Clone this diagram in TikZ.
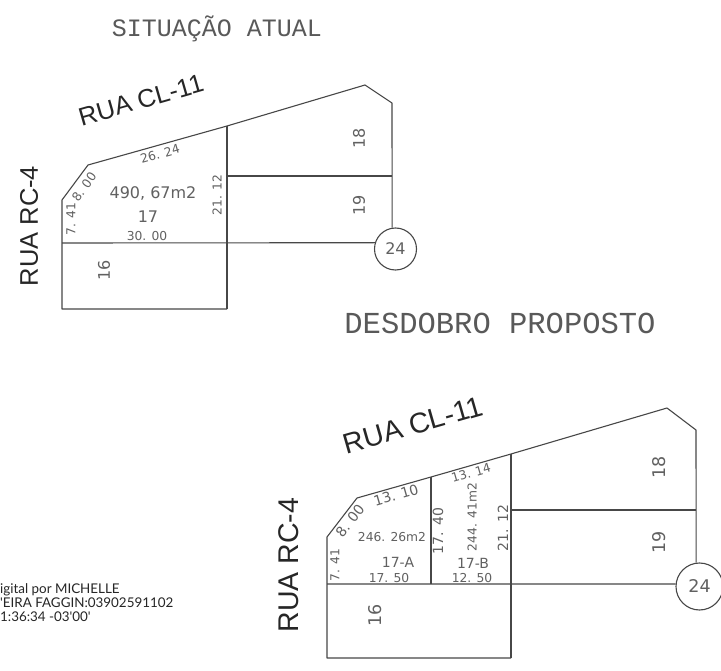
\documentclass[tikz,border=0pt]{standalone}
\usepackage{fontspec}
\setmainfont{Liberation Sans}
\setmonofont{Liberation Mono}
\setsansfont{DejaVu Sans}
\newfontfamily\sigfont{Lato}
\begin{document}
\begin{tikzpicture}[x=1pt,y=-1pt,
  plan/.style={draw=black!72,line width=1.1pt,line join=round},
  lotno/.style={inner sep=0,text=black!62,font=\sffamily\fontsize{16}{16}\selectfont},
  lotnob/.style={inner sep=0,text=black!62,font=\sffamily\fontsize{17.5}{17.5}\selectfont},
  dim/.style={inner sep=0,text=black!62,font=\sffamily\fontsize{12.3}{12.3}\selectfont},
  dimb/.style={inner sep=0,text=black!62,font=\sffamily\fontsize{14}{14}\selectfont},
  street/.style={inner sep=0,text=black!85,font=\rmfamily\fontsize{25.5}{25.5}\selectfont},
  streetb/.style={inner sep=0,text=black!85,font=\rmfamily\fontsize{28.5}{28.5}\selectfont},
  title/.style={inner sep=0,text=black!65,font=\ttfamily\fontsize{25}{25}\selectfont},
  titleb/.style={inner sep=0,text=black!65,font=\ttfamily\fontsize{30.5}{30.5}\selectfont},
  ring/.style={circle,draw=black!72,line width=1.1pt,inner sep=0,text=black!62},
  sig/.style={inner sep=0,anchor=base west,text=black!85,font=\sigfont\fontsize{13.4}{13.4}\selectfont}]
\useasboundingbox (0,0) rectangle (721,671);
\fill[white] (0,0) rectangle (721,671);
% --- top plan
\node[ring,minimum size=42pt,font=\sffamily\fontsize{16}{16}\selectfont] (ca) at (395.5,249) {24};
\coordinate (a1) at (62,243);
\coordinate (a2) at (62,309);
\coordinate (a3) at (227,309);
\coordinate (a4) at (227,126);
\coordinate (a5) at (227,176);
\coordinate (a6) at (392,176);
\draw[plan] (a3) -- (a2) -- (62,200) -- (88,165) -- (a4) -- (365,85) -- (392,103) -- (ca.99.5);
\draw[plan] (a4) -- (a3);
\draw[plan] (a5) -- (a6);
\draw[plan] (a1) -- (ca.163);
\node[title] (ta) at (217,29) {SITUAÇÃO ATUAL};
\node[street,rotate=16] (sa) at (141,100) {RUA CL-11};
\node[street,rotate=90] (ra) at (29,226) {RUA RC-4};
\node[dim,rotate=16] (d1) at (160,154) {26. 24};
\node[dim,rotate=55] (d2) at (84,187) {8. 00};
\node[dim,rotate=90] (d3) at (71,219) {7. 41};
\node[lotno] (d4) at (153,193) {490, 67m2};
\node[lotno] (d5) at (148,217) {17};
\node[dim] (d6) at (147,236) {30. 00};
\node[dim,rotate=90] (d7) at (217,195) {21. 12};
\node[lotno,rotate=90] (d8) at (104,270) {16};
\node[lotno,rotate=90] (d9) at (359,138) {18};
\node[lotno,rotate=90] (d10) at (359,205) {19};
% --- bottom plan
\node[ring,minimum size=47pt,font=\sffamily\fontsize{17.5}{17.5}\selectfont] (cb) at (699.5,586.5) {24};
\coordinate (b1) at (327,584);
\coordinate (b2) at (327,658);
\coordinate (b3) at (511,658);
\coordinate (b4) at (511,454);
\coordinate (b5) at (431,477);
\coordinate (b6) at (431,584);
\coordinate (b7) at (511,510);
\coordinate (b8) at (696,510);
\draw[plan] (b3) -- (b2) -- (327,537) -- (357,498) -- (b5) -- (b4) -- (667,408) -- (696,430) -- (cb.98.5);
\draw[plan] (b4) -- (b3);
\draw[plan] (b5) -- (b6);
\draw[plan] (b7) -- (b8);
\draw[plan] (b1) -- (cb.174);
\node[titleb] (tb) at (500,323) {DESDOBRO PROPOSTO};
\node[streetb,rotate=16] (sb) at (413,425) {RUA CL-11};
\node[streetb,rotate=90] (rb) at (289,565) {RUA RC-4};
\node[dimb,rotate=16] (e1) at (396,495) {13. 10};
\node[dimb,rotate=52] (e2) at (350,521) {8. 00};
\node[dim,rotate=90] (e3) at (335,565) {7. 41};
\node[dim] (e4) at (392,537) {246. 26m2};
\node[dimb] (e5) at (398,562) {17-A};
\node[dim] (e6) at (389,578) {17. 50};
\node[dimb,rotate=90] (e7) at (438,531) {17. 40};
\node[dim,rotate=16] (e8) at (471,473) {13. 14};
\node[dim,rotate=90] (e9) at (472,517) {244. 41m2};
\node[dimb] (e10) at (473,563) {17-B};
\node[dim] (e11) at (472,578) {12. 50};
\node[dimb,rotate=90] (e12) at (503,528) {21. 12};
\node[lotnob,rotate=90] (e13) at (375,615) {16};
\node[lotnob,rotate=90] (e14) at (659,467) {18};
\node[lotnob,rotate=90] (e15) at (659,542) {19};
% --- signature
\node[sig] (s1) at (0,593) {igital por MICHELLE};
\node[sig] (s2) at (0,607) {'EIRA FAGGIN:03902591102};
\node[sig] (s3) at (0,621) {1:36:34 -03'00'};
\end{tikzpicture}
\end{document}
